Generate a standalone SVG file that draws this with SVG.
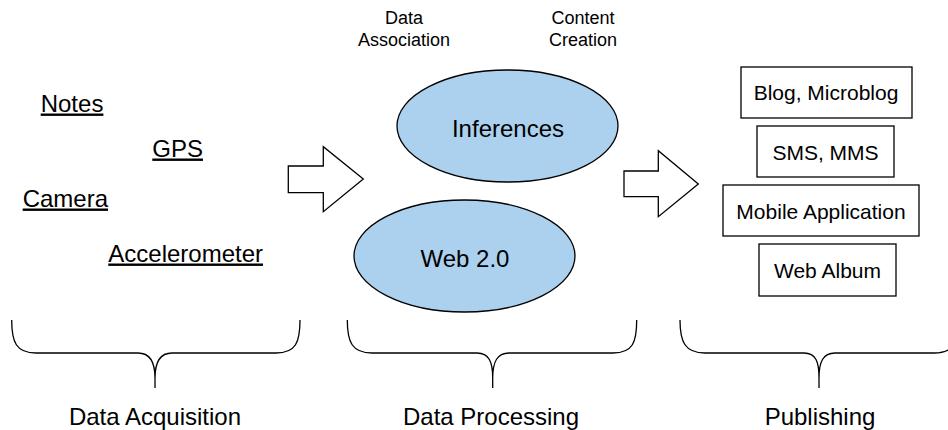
<svg xmlns="http://www.w3.org/2000/svg" width="948" height="430" viewBox="0 0 948 430">
<style>
text{font-family:"Liberation Sans",Arial,sans-serif;fill:#000}
.big{font-size:24px}
.sm{font-size:18px}
.box{font-size:21px}
.u{text-decoration:underline}
.ell{fill:#abd1ee;stroke:#000;stroke-width:1.3}
.rect{fill:#fff;stroke:#000;stroke-width:1.3}
.arr{fill:#fff;stroke:#000;stroke-width:1.3}
.brace{fill:none;stroke:#000;stroke-width:1.3}
</style>
<rect width="948" height="430" fill="#fff"/>

<g id="sources">
<text class="big u" x="40.7" y="111.5">Notes</text>
<text class="big u" x="152.3" y="156.5">GPS</text>
<text class="big u" x="22.7" y="206.5">Camera</text>
<text class="big u" x="108.3" y="261.5">Accelerometer</text>
</g>

<g id="label-data-association">
<text class="sm" x="404" y="24" text-anchor="middle">Data</text>
<text class="sm" x="404" y="46" text-anchor="middle">Association</text>
</g>
<g id="label-content-creation">
<text class="sm" x="583" y="24" text-anchor="middle">Content</text>
<text class="sm" x="583" y="46" text-anchor="middle">Creation</text>
</g>

<g id="node-inferences">
<ellipse class="ell" cx="507.5" cy="126" rx="110.5" ry="56"/>
<text class="big" x="508" y="136.5" text-anchor="middle">Inferences</text>
</g>
<g id="node-web20">
<ellipse class="ell" cx="464.5" cy="256" rx="110.5" ry="56"/>
<text class="big" x="465" y="266.5" text-anchor="middle">Web 2.0</text>
</g>

<g id="node-blog">
<rect class="rect" x="741" y="67" width="171" height="51"/>
<text class="box" x="826" y="100" text-anchor="middle">Blog, Microblog</text>
</g>
<g id="node-sms">
<rect class="rect" x="757" y="126" width="137" height="51"/>
<text class="box" x="825.5" y="160" text-anchor="middle">SMS, MMS</text>
</g>
<g id="node-mobile">
<rect class="rect" x="723" y="185" width="196" height="51"/>
<text class="box" x="821" y="219.3" text-anchor="middle">Mobile Application</text>
</g>
<g id="node-webalbum">
<rect class="rect" x="759" y="244" width="137" height="52"/>
<text class="box" x="827.5" y="278.3" text-anchor="middle">Web Album</text>
</g>

<g id="connectors">
<polygon class="arr" points="288.3,166 323.3,166 323.3,146.7 363.3,179 323.3,211.7 323.3,192.7 288.3,192.7"/>
<polygon class="arr" points="624,171 658.3,171 658.3,150.7 698.3,184 658.3,216.7 658.3,196.7 624,196.7"/>
</g>

<g id="braces">
<path class="brace" d="M11.7,320 C11.7,342 16,353 36,353 L138,353 C150,353 155,362 155,378 L155,388 M155,388 L155,378 C155,362 160,353 172,353 L276,353 C296,353 300,342 300,320"/>
<path class="brace" d="M347.3,320 C347.3,342 352,353 372,353 L477,353 C489,353 492.7,362 492.7,378 L492.7,388 M492.7,378 C492.7,362 497,353 509,353 L613,353 C633,353 636.7,342 636.7,320"/>
<path class="brace" d="M680,320 C680,342 685,353 705,353 L804,353 C816,353 819,362 819,378 L819,388 M819,378 C819,362 823,353 835,353 L934,353 C954,353 958,342 958,320"/>
</g>

<g id="stage-labels">
<text class="big" x="155" y="425" text-anchor="middle">Data Acquisition</text>
<text class="big" x="491" y="425" text-anchor="middle">Data Processing</text>
<text class="big" x="820" y="425" text-anchor="middle">Publishing</text>
</g>
</svg>
